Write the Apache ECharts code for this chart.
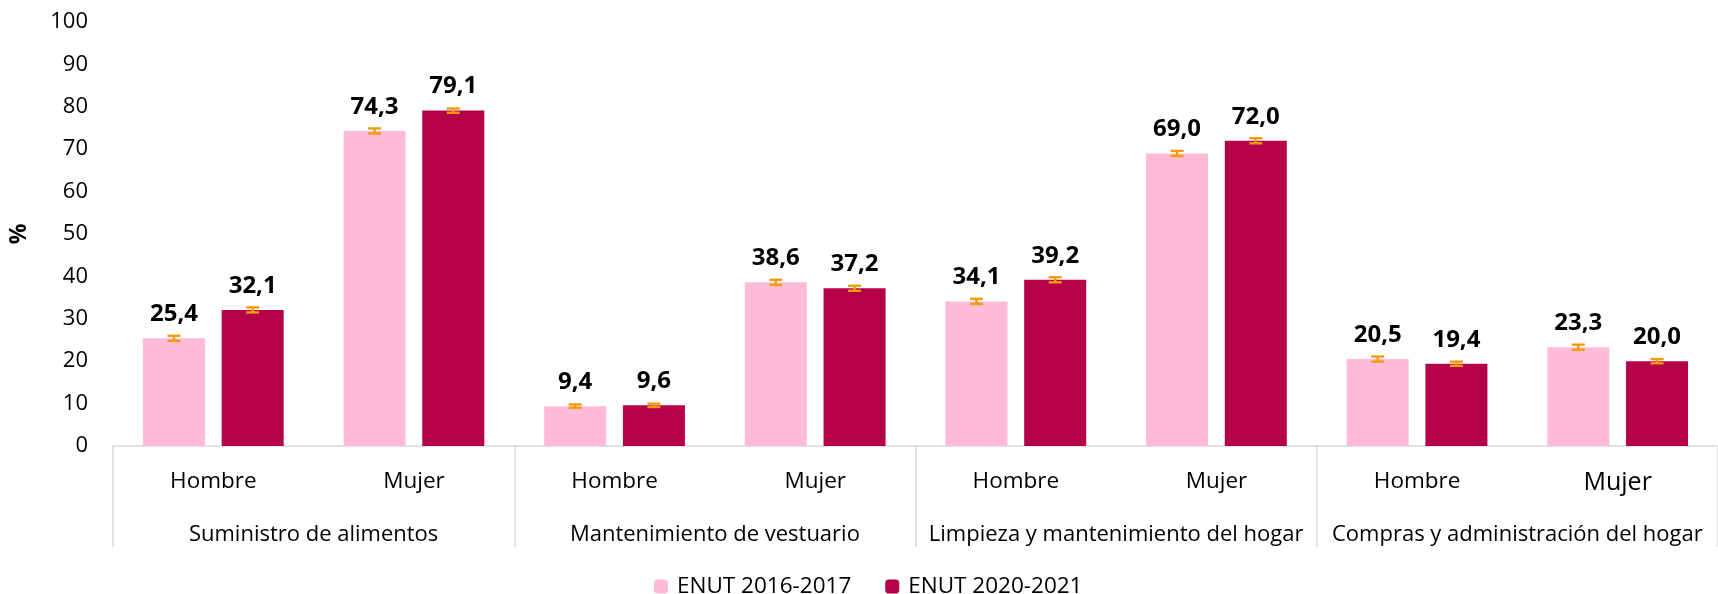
<!DOCTYPE html>
<html lang="es">
<head>
    <meta charset="UTF-8">
    <title>ENUT</title>
    <script src="https://cdn.jsdelivr.net/npm/echarts@6/dist/echarts.min.js"></script>
    <style>
        html, body { margin: 0; padding: 0; background: #fff; }
    </style>
</head>
<body>

<div id="main" style="width: 1718px;height:594px;"></div>

<script type="text/javascript">
    var sexos = ['Hombre', 'Mujer', 'Hombre', 'Mujer', 'Hombre', 'Mujer', 'Hombre', 'Mujer'];
    var grupos = ['Suministro de alimentos', 'Mantenimiento de vestuario',
        'Limpieza y mantenimiento del hogar', 'Compras y administración del hogar'];

    var enut2016 = [25.4, 74.3, 9.4, 38.6, 34.1, 69.0, 20.5, 23.3];
    var enut2020 = [32.1, 79.1, 9.6, 37.2, 39.2, 72.0, 19.4, 20.0];
    // margen de error (estimado del gráfico)
    var err2016 = [0.6, 0.6, 0.4, 0.6, 0.6, 0.6, 0.6, 0.6];
    var err2020 = [0.6, 0.5, 0.4, 0.6, 0.6, 0.6, 0.5, 0.5];

    var yTicks = [0, 100, 10];

    var rosa = '#FFBBD7';
    var granate = '#B5004A';
    var naranja = '#F29B0E';
    var fuente = 'Open Sans';
    var anchoBarra = 62;

    function errData(vals, errs) {
        return vals.map(function (v, i) {
            return [i, v - errs[i], v + errs[i]];
        });
    }

    function barraError(dx) {
        return function (params, api) {
            var lo = api.coord([api.value(0), api.value(1)]);
            var hi = api.coord([api.value(0), api.value(2)]);
            var x = lo[0] + dx;
            var w = 6.5;
            var st = {stroke: naranja, lineWidth: 2.4};
            return {
                type: 'group',
                children: [
                    {type: 'line', shape: {x1: x, y1: lo[1], x2: x, y2: hi[1]}, style: st},
                    {type: 'line', shape: {x1: x - w, y1: lo[1], x2: x + w, y2: lo[1]}, style: st},
                    {type: 'line', shape: {x1: x - w, y1: hi[1], x2: x + w, y2: hi[1]}, style: st}
                ]
            };
        };
    }

    var myChart = echarts.init(document.getElementById('main'));

    var etiqueta = {
        show: true,
        position: 'top',
        distance: 12,
        color: '#000',
        fontFamily: fuente,
        fontWeight: 'bold',
        fontSize: 24,
        formatter: function (p) {
            return p.value.toFixed(1).replace('.', ',');
        }
    };

    var offset = (anchoBarra + anchoBarra * 0.27) / 2;

    var option = {
        textStyle: {fontFamily: fuente},
        grid: {left: 112, width: 1614, top: 22, bottom: 148},
        legend: {
            top: 575,
            left: 654,
            padding: 0,
            itemWidth: 14,
            itemHeight: 14,
            itemGap: 34,
            textStyle: {fontSize: 22.5, color: '#000', fontFamily: fuente, padding: [0, 0, 0, 4]},
            data: ['ENUT 2016-2017', 'ENUT 2020-2021']
        },
        xAxis: [{
            type: 'category',
            data: sexos,
            axisLine: {lineStyle: {color: '#D9D9D9', width: 1.5}},
            axisTick: {show: false},
            axisLabel: {
                color: '#000',
                fontSize: 22.5,
                margin: 24,
                interval: 0,
                formatter: function (v, i) {
                    return i === 7 ? '{big|' + v + '}' : v;
                },
                rich: {big: {fontSize: 25, color: '#000', fontFamily: fuente}}
            }
        }, {
            type: 'category',
            data: grupos,
            position: 'bottom',
            axisLine: {show: false},
            axisTick: {show: true, interval: 0, length: 101, lineStyle: {color: '#D9D9D9', width: 1.5}},
            axisLabel: {color: '#000', fontSize: 22, margin: 78, interval: 0}
        }],
        yAxis: {
            type: 'value',
            min: yTicks[0],
            max: yTicks[1],
            interval: yTicks[2],
            name: '%',
            nameLocation: 'middle',
            nameRotate: 90,
            nameGap: 82,
            nameTextStyle: {fontSize: 23, fontWeight: 'bold', color: '#000'},
            axisLine: {show: false},
            axisTick: {show: false},
            splitLine: {show: false},
            axisLabel: {color: '#000', fontSize: 22, margin: 25}
        },
        series: [{
            name: 'ENUT 2016-2017',
            type: 'bar',
            data: enut2016,
            barWidth: anchoBarra,
            barGap: '27%',
            itemStyle: {color: rosa},
            label: etiqueta
        }, {
            name: 'ENUT 2020-2021',
            type: 'bar',
            data: enut2020,
            barWidth: anchoBarra,
            barGap: '27%',
            itemStyle: {color: granate},
            label: etiqueta
        }, {
            type: 'custom',
            data: errData(enut2016, err2016),
            renderItem: barraError(-offset),
            encode: {x: 0, y: [1, 2]},
            z: 5,
            silent: true
        }, {
            type: 'custom',
            data: errData(enut2020, err2020),
            renderItem: barraError(offset),
            encode: {x: 0, y: [1, 2]},
            z: 5,
            silent: true
        }]
    };

    myChart.setOption(option);
</script>
</body>
</html>
